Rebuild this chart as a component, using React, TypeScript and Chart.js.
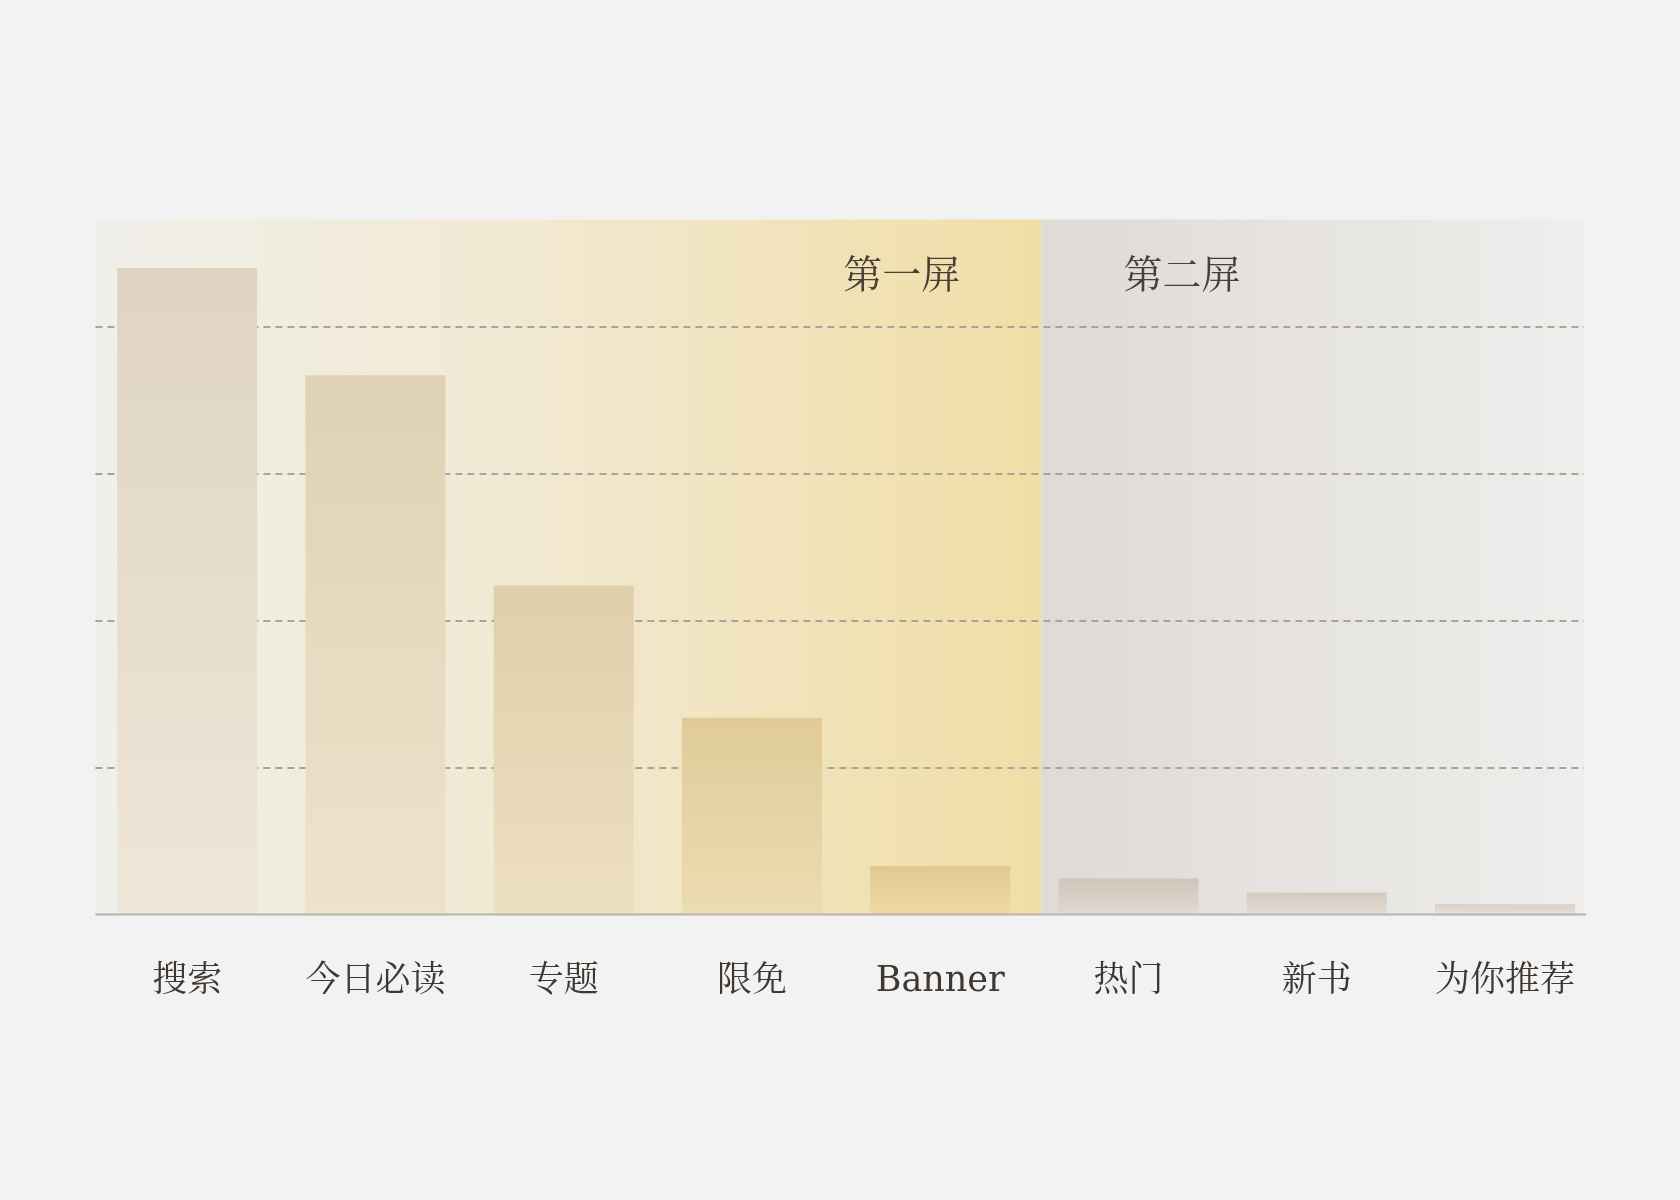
import React, { useEffect, useRef } from 'react';
import { Chart, registerables } from 'chart.js';

Chart.register(...registerables);

// entry points on the home page, share of clicks (%)
const categories = ['搜索', '今日必读', '专题', '限免', 'Banner', '热门', '新书', '为你推荐'];
const clickShare = [44.0, 36.7, 22.4, 13.4, 3.3, 2.45, 1.5, 0.7];
const gridValues = [10, 20, 30, 40];
const screenLabels = ['第一屏', '第二屏'];
const firstScreenCount = 5; // 搜索 .. Banner are on the first screen

// per bar gradient colours (top -> bottom)
const barTopColors = ['#dfd4c1', '#dfd1b3', '#dfcfab', '#e0cb98', '#e0c990', '#cfc5ba', '#d3c9be', '#d8d0c6'];
const barBottomColors = ['#eee6d8', '#ede3cc', '#ede0c0', '#ecdcb2', '#eed9a4', '#e1dad1', '#e4ddd4', '#e7e1d9'];

const FONT = '"DejaVu Serif", "Noto Serif CJK SC", "Noto Sans CJK SC", serif';
const TEXT = '#3e3732';
const PLOT_LEFT = 95.4;
const PLOT_RIGHT = 1584;

const dividerX = (chart) => {
  const x = chart.scales.x;
  return (x.getPixelForValue(firstScreenCount - 1) + x.getPixelForValue(firstScreenCount)) / 2 + 7;
};

const screensPlugin = {
  id: 'screens',
  beforeDraw(chart) {
    const { ctx, chartArea } = chart;
    const top = chartArea.top;
    const bottom = chartArea.bottom;
    const divider = dividerX(chart);

    ctx.save();
    let g = ctx.createLinearGradient(PLOT_LEFT, 0, divider, 0);
    g.addColorStop(0, '#f0efea');
    g.addColorStop(0.45, '#f1e9d2');
    g.addColorStop(1, '#f1dea6');
    ctx.fillStyle = g;
    ctx.fillRect(PLOT_LEFT, top, divider - PLOT_LEFT, bottom - top);

    g = ctx.createLinearGradient(divider, 0, PLOT_RIGHT, 0);
    g.addColorStop(0, '#dedad6');
    g.addColorStop(1, '#efeeec');
    ctx.fillStyle = g;
    ctx.fillRect(divider, top, PLOT_RIGHT - divider, bottom - top);
    ctx.restore();
  },
  beforeDatasetsDraw(chart) {
    const { ctx, scales } = chart;
    const y = scales.y;
    const divider = dividerX(chart);

    ctx.save();
    ctx.strokeStyle = '#a9a399';
    ctx.lineWidth = 1.8;
    ctx.setLineDash([7, 5]);
    gridValues.forEach((v) => {
      const py = Math.round(y.getPixelForValue(v));
      ctx.beginPath();
      ctx.moveTo(PLOT_LEFT, py);
      ctx.lineTo(PLOT_RIGHT, py);
      ctx.stroke();
    });
    ctx.setLineDash([]);

    ctx.fillStyle = '#4a403a';
    ctx.font = '39px ' + FONT;
    ctx.textBaseline = 'middle';
    ctx.textAlign = 'right';
    ctx.fillText(screenLabels[0], divider - 81, 278);
    ctx.textAlign = 'left';
    ctx.fillText(screenLabels[1], divider + 82, 278);
    ctx.restore();
  },
  afterDatasetsDraw(chart) {
    const { ctx, scales } = chart;
    const py = scales.y.getPixelForValue(0);
    ctx.save();
    ctx.strokeStyle = '#b8b2ad';
    ctx.lineWidth = 2;
    ctx.beginPath();
    ctx.moveTo(PLOT_LEFT, py);
    ctx.lineTo(PLOT_RIGHT + 2, py);
    ctx.stroke();
    ctx.restore();
  },
};

const App = () => {
  const canvasRef = useRef(null);

  useEffect(() => {
    document.body.style.margin = '0';
    document.body.style.background = '#f2f2f2';

    const chart = new Chart(canvasRef.current, {
      type: 'bar',
      data: {
        labels: categories,
        datasets: [
          {
            data: clickShare,
            barPercentage: 0.7435,
            categoryPercentage: 1,
            backgroundColor: (c) => {
              const { chart: ch, dataIndex, raw } = c;
              const fallback = barTopColors[dataIndex] || '#dfd4c1';
              const y = ch.scales && ch.scales.y;
              if (!y || typeof raw !== 'number') return fallback;
              const y0 = y.getPixelForValue(raw);
              const y1 = y.getPixelForValue(0);
              if (!Number.isFinite(y0) || !Number.isFinite(y1) || y0 === y1) return fallback;
              const g = ch.ctx.createLinearGradient(0, y0, 0, y1);
              g.addColorStop(0, barTopColors[dataIndex]);
              g.addColorStop(1, barBottomColors[dataIndex]);
              return g;
            },
            borderWidth: 0,
          },
        ],
      },
      options: {
        animation: false,
        responsive: true,
        maintainAspectRatio: false,
        layout: {
          padding: { left: 93, right: 80.8, top: 219.6, bottom: 151.5 },
        },
        scales: {
          x: {
            grid: { display: false, drawTicks: false },
            border: { display: false },
            ticks: {
              color: TEXT,
              padding: 46,
              font: { family: FONT, size: 35 },
              maxRotation: 0,
              autoSkip: false,
            },
          },
          y: {
            display: false,
            min: 0,
            max: 47.3,
          },
        },
        plugins: {
          legend: { display: false },
          tooltip: { enabled: false },
          title: { display: false },
        },
      },
      plugins: [screensPlugin],
    });

    return () => {
      chart.destroy();
    };
  }, []);

  return (
    <div style={{ width: 1680, height: 1200, position: 'relative' }}>
      <canvas ref={canvasRef} />
    </div>
  );
};

export default App;
